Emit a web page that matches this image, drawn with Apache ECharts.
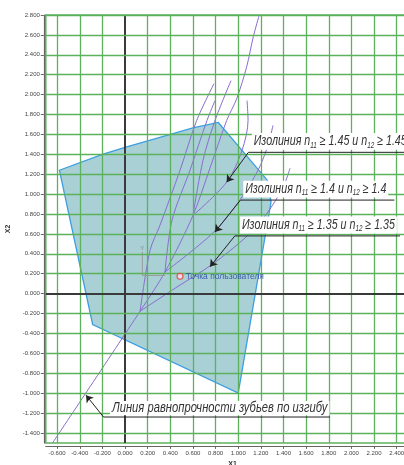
<!DOCTYPE html>
<html>
<head>
<meta charset="utf-8">
<script src="https://cdn.jsdelivr.net/npm/echarts@6/dist/echarts.min.js"></script>
<style>
  html, body { margin: 0; padding: 0; background: #fff; }
  #chart { width: 404px; height: 465px; }
</style>
</head>
<body>
<div id="chart"></div>
<script>
// Axis ticks
const xTicks = [-0.6, -0.4, -0.2, 0, 0.2, 0.4, 0.6, 0.8, 1.0, 1.2, 1.4, 1.6, 1.8, 2.0, 2.2, 2.4];
const yTicks = [-1.4, -1.2, -1.0, -0.8, -0.6, -0.4, -0.2, 0, 0.2, 0.4, 0.6, 0.8, 1.0, 1.2, 1.4, 1.6, 1.8, 2.0, 2.2, 2.4, 2.6, 2.8];

// Blocking contour (allowed region of X1, X2)
const regionX = [-0.58, -0.2, 0.0, 0.6, 0.824, 1.257, 1.29, 1.0, -0.286];
const regionY = [1.24, 1.40, 1.47, 1.665, 1.72, 1.14, 0.92, -1.0, -0.31];

// Line of equal bending strength of the teeth
const equalX = [-0.64, 0.133, 0.353, 0.60, 0.75, 0.898, 0.987, 1.075, 1.133, 1.186];
const equalY = [-1.5, -0.177, 0.217, 0.785, 1.26, 1.74, 1.96, 2.28, 2.58, 2.80];

// Isolines n11 / n12 = 1.35 (branches meet on the equal-strength line)
const iso135aX = [0.133, 0.45, 0.777, 1.086, 1.254, 1.396, 1.458];
const iso135aY = [-0.177, 0.06, 0.30, 0.586, 0.807, 1.068, 1.26];
const iso135bX = [0.133, 0.221, 0.309, 0.486, 0.633, 0.786];
const iso135bY = [-0.177, 0.436, 0.687, 1.24, 1.74, 2.11];

// Isolines n11 / n12 = 1.4
const iso14aX = [0.353, 0.777, 1.016, 1.175, 1.263, 1.307];
const iso14aY = [0.217, 0.61, 0.943, 1.24, 1.49, 1.69];
const iso14bX = [0.353, 0.415, 0.574, 0.724, 0.795];
const iso14bY = [0.217, 0.737, 1.24, 1.74, 1.94];

// Isolines n11 / n12 = 1.45
const iso145aX = [0.60, 0.898, 1.034, 1.087, 1.078];
const iso145aY = [0.785, 1.12, 1.44, 1.74, 1.94];
const iso145bX = [0.60, 0.689, 0.795, 0.936];
const iso145bY = [0.785, 1.34, 1.74, 2.14];

// User point
const userX = [0.486];
const userY = [0.174];

// Small coordinate-system glyph near the user point
const ucsX = [0.153, 0.153, 0.353];
const ucsY = [0.418, 0.183, 0.183];

const zip = (xs, ys) => xs.map((x, i) => [x, ys[i]]);

const gridColor = '#5cb25c';
const curveColor = '#8a6cd0';
const fontTxt = '"Liberation Sans Narrow", "Liberation Sans", sans-serif';

function isoLabel(level) {
  return '{t|Изолиния n}{s|11}{t| ≥ ' + level + ' и n}{s|12}{t| ≥ ' + level + '}';
}
const isoRich = {
  t: { fontFamily: fontTxt, fontStyle: 'italic', fontSize: 11, fill: '#333' },
  s: { fontFamily: fontTxt, fontStyle: 'italic', fontSize: 6.5, fill: '#333', padding: [6, 0, 0, 0] }
};

// Callouts: text, anchor of the text, underline and arrow tip on the curve
const calloutText = [isoLabel('1.45'), isoLabel('1.4'), isoLabel('1.35'), '{t|Линия равнопрочности зубьев по изгибу}'];
const calloutAnchor = [[1.12, 1.53], [1.045, 1.05], [1.016, 0.69], [-0.133, -1.15]];
const calloutUnder = [[[2.6, 1.42], [1.09, 1.42]], [[2.38, 0.94], [1.02, 0.94]], [[2.43, 0.58], [0.97, 0.58]], [[1.81, -1.24], [-0.19, -1.24]]];
const calloutTip = [[0.898, 1.12], [0.795, 0.62], [0.751, 0.27], [-0.345, -1.02]];

const chart = echarts.init(document.getElementById('chart'), null, { renderer: 'canvas' });

const series = [];

// Region polygon
series.push({
  type: 'custom',
  coordinateSystem: 'cartesian2d',
  z: 1,
  data: [0],
  renderItem: function (params, api) {
    const pts = zip(regionX, regionY).map(p => api.coord(p));
    return {
      type: 'polygon',
      shape: { points: pts },
      style: { fill: '#a8d0d5', stroke: '#3c9ee2', lineWidth: 1.3 }
    };
  },
  silent: true
});

// Grid lines drawn over the region
series.push({
  type: 'line',
  data: [],
  z: 2,
  silent: true,
  markLine: {
    silent: true,
    symbol: 'none',
    label: { show: false },
    animation: false,
    data: xTicks.map(v => ({ xAxis: v, lineStyle: { color: v === 0 ? '#3a3a3a' : gridColor, width: v === 0 ? 2 : 1.3, type: 'solid' } }))
      .concat(yTicks.map(v => ({ yAxis: v, lineStyle: { color: v === 0 ? '#3a3a3a' : gridColor, width: v === 0 ? 2 : 1.3, type: 'solid' } })))
  }
});

function curve(xs, ys) {
  return {
    type: 'line',
    data: zip(xs, ys),
    smooth: 0.3,
    symbol: 'none',
    z: 3,
    silent: true,
    lineStyle: { color: curveColor, width: 1 }
  };
}
series.push(curve(equalX, equalY));
series.push(curve(iso135aX, iso135aY));
series.push(curve(iso135bX, iso135bY));
series.push(curve(iso14aX, iso14aY));
series.push(curve(iso14bX, iso14bY));
series.push(curve(iso145aX, iso145aY));
series.push(curve(iso145bX, iso145bY));

// Coordinate glyph
series.push({
  type: 'line',
  data: zip(ucsX, ucsY),
  symbol: 'none',
  z: 3,
  silent: true,
  lineStyle: { color: '#9a9a9a', width: 1 },
  markPoint: {
    symbol: 'circle',
    symbolSize: 0,
    silent: true,
    label: { show: true, formatter: 'Y', position: 'top', distance: 1, fontSize: 6, color: '#888' },
    data: [{ coord: [ucsX[0], ucsY[0]] }]
  }
});

// Callout underlines and arrows
calloutUnder.forEach(function (u, i) {
  series.push({
    type: 'line',
    data: u,
    symbol: 'none',
    showSymbol: false,
    z: 5,
    silent: true,
    lineStyle: { color: '#222', width: 1 }
  });
  series.push({
    type: 'lines',
    coordinateSystem: 'cartesian2d',
    z: 6,
    silent: true,
    data: [{ coords: [u[1], calloutTip[i]] }],
    symbol: ['none', 'arrow'],
    symbolSize: 7,
    lineStyle: { color: '#222', width: 1, opacity: 1 }
  });
});

// Callout texts (tall, narrow drafting lettering)
series.push({
  type: 'custom',
  coordinateSystem: 'cartesian2d',
  z: 7,
  silent: true,
  data: calloutAnchor.map((p, i) => [p[0], p[1], i]),
  renderItem: function (params, api) {
    const i = api.value(2);
    const pt = api.coord([api.value(0), api.value(1)]);
    return {
      type: 'text',
      x: pt[0],
      y: pt[1],
      scaleX: i === 3 ? 1.02 : 0.97,
      scaleY: 1.3,
      style: {
        text: calloutText[i],
        rich: isoRich,
        verticalAlign: 'middle',
        align: 'left',
        backgroundColor: '#fff',
        padding: [0, 2, 0, 2]
      }
    };
  }
});

// User point
series.push({
  type: 'scatter',
  z: 8,
  silent: true,
  data: zip(userX, userY),
  symbol: 'circle',
  symbolSize: 6,
  itemStyle: { color: '#fde', borderColor: '#e04040', borderWidth: 1.2 },
  label: {
    show: true,
    position: 'right',
    distance: 2,
    formatter: 'Точка пользователя',
    fontFamily: '"Liberation Sans", sans-serif',
    fontSize: 8.5,
    color: '#2040a0'
  }
});

chart.setOption({
  animation: false,
  backgroundColor: '#fff',
  grid: { left: 45.8, right: -15.3, top: 15, bottom: 22.1, show: true, borderColor: gridColor, borderWidth: 1.5, outerBoundsMode: 'none', containLabel: false },
  xAxis: {
    type: 'value',
    min: -0.7,
    max: 2.6,
    offset: 3,
    name: 'X1',
    nameLocation: 'middle',
    nameGap: 14,
    nameTextStyle: { fontSize: 7, fontWeight: 'bold', color: '#333', fontFamily: '"Liberation Sans", sans-serif' },
    axisLine: { show: true, onZero: false, lineStyle: { color: '#666', width: 1.2 } },
    axisTick: { show: true, length: 3, customValues: xTicks, lineStyle: { color: '#666' } },
    axisLabel: { customValues: xTicks, fontSize: 6, color: '#444', margin: 4, fontFamily: '"Liberation Sans", sans-serif', formatter: v => v.toFixed(3) },
    splitLine: { show: false }
  },
  yAxis: {
    type: 'value',
    min: -1.5,
    max: 2.8,
    offset: 2,
    name: 'X2',
    nameLocation: 'middle',
    nameGap: 26,
    nameTextStyle: { fontSize: 7, fontWeight: 'bold', color: '#333', fontFamily: '"Liberation Sans", sans-serif' },
    axisLine: { show: true, onZero: false, lineStyle: { color: '#666', width: 1.2 } },
    axisTick: { show: true, length: 3, customValues: yTicks, lineStyle: { color: '#666' } },
    axisLabel: { customValues: yTicks, fontSize: 6, color: '#444', margin: 4, fontFamily: '"Liberation Sans", sans-serif', formatter: v => v.toFixed(3) },
    splitLine: { show: false }
  },
  series: series
});
</script>
</body>
</html>
